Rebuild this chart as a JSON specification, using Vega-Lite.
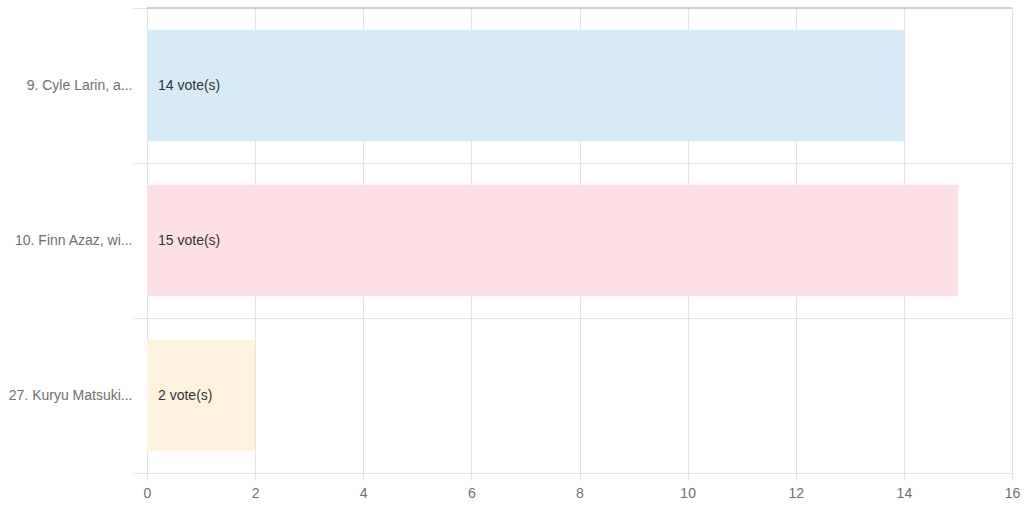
{
  "$schema": "https://vega.github.io/schema/vega-lite/v6.json",
  "width": 865,
  "height": 465,
  "padding": {"left": 147, "top": 8, "right": 12, "bottom": 39},
  "autosize": {"type": "none"},
  "background": "white",
  "config": {
    "view": {"stroke": null},
    "font": "Liberation Sans",
    "axis": {"labelFont": "Liberation Sans", "labelFontSize": 14, "labelColor": "#6f6f6f"}
  },
  "data": {
    "values": [
      {"option": "9. Cyle Larin, a...", "votes": 14, "label": "14 vote(s)", "color": "#d6eaf8"},
      {"option": "10. Finn Azaz, wi...", "votes": 15, "label": "15 vote(s)", "color": "#fde0e6"},
      {"option": "27. Kuryu Matsuki...", "votes": 2, "label": "2 vote(s)", "color": "#fef3dc"}
    ]
  },
  "encoding": {
    "y": {
      "field": "option", "type": "nominal", "sort": null, "title": null,
      "scale": {"paddingInner": 0, "paddingOuter": 0},
      "axis": {
        "tickBand": "extent", "grid": true, "gridColor": "#e4e4e4", "domain": false,
        "tickSize": 14, "tickColor": "#e4e4e4", "labelPadding": 1, "labelLimit": 145
      }
    }
  },
  "layer": [
    {
      "mark": {"type": "bar", "height": {"band": 0.72}},
      "encoding": {
        "x": {
          "field": "votes", "type": "quantitative", "title": null,
          "scale": {"domain": [0, 16], "nice": false},
          "axis": {
            "values": [0, 2, 4, 6, 8, 10, 12, 14, 16], "grid": true, "gridColor": "#e4e4e4",
            "domain": false, "tickColor": "#e4e4e4", "tickSize": 7, "labelPadding": 6,
            "labelFlush": false
          }
        },
        "color": {"field": "color", "type": "nominal", "scale": null}
      }
    },
    {
      "mark": {"type": "text", "align": "left", "dx": 11, "fontSize": 14, "color": "#333333", "font": "Liberation Sans"},
      "encoding": {
        "x": {"datum": 0, "type": "quantitative"},
        "text": {"field": "label"}
      }
    },
    {
      "mark": {"type": "rule", "color": "#cccccc", "strokeWidth": 1.5},
      "encoding": {
        "x": {"datum": 0, "type": "quantitative"},
        "x2": {"datum": 16},
        "y": {"value": 0}
      }
    }
  ]
}
